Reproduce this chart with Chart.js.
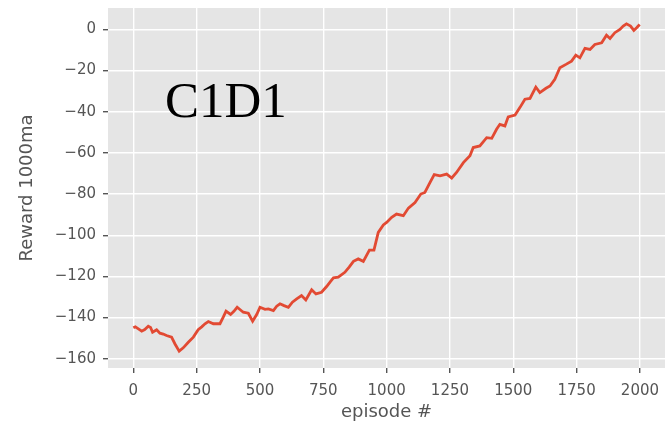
<!DOCTYPE html>
<html>
<head>
<meta charset="utf-8">
<script src="https://cdn.jsdelivr.net/npm/chart.js@4"></script>
<style>
  body { margin: 0; background: #fff; }
  #wrap { width: 665px; height: 424px; }
</style>
</head>
<body>
<div id="wrap"><canvas id="chart" width="665" height="424"></canvas></div>
<script>
// episode numbers and the 1000-episode moving average
const episodes = [0, 8, 20, 33, 45, 59, 68, 76, 92, 105, 118, 131, 151, 164, 181, 197, 217, 237, 256, 270,
  283, 296, 316, 342, 355, 366, 384, 397, 410, 422, 434, 454, 471, 487, 500, 520, 533, 553, 566, 579,
  595, 612, 628, 645, 664, 681, 704, 721, 743, 763, 778, 790, 809, 835, 852, 869, 888, 908, 932, 950,
  967, 987, 1000, 1020, 1039, 1066, 1086, 1112, 1135, 1151, 1171, 1188, 1211, 1237, 1257, 1276, 1303, 1329, 1342, 1368,
  1395, 1415, 1434, 1447, 1467, 1480, 1507, 1526, 1546, 1566, 1589, 1605, 1629, 1645, 1664, 1684, 1708, 1730, 1747, 1763,
  1783, 1803, 1822, 1849, 1868, 1882, 1901, 1921, 1934, 1947, 1963, 1976, 1987, 1999];
const rewards = [-145.0, -144.5, -145.5, -146.6, -145.8, -144.2, -144.8, -147.1, -145.9, -147.6, -148.0, -148.7, -149.5, -152.7, -156.3, -154.7, -152.0, -149.5, -145.9, -144.5,
  -143.0, -141.9, -143.0, -143.0, -139.8, -136.9, -138.5, -137.0, -135.0, -136.2, -137.4, -137.9, -141.8, -138.5, -135.0, -136.0, -135.8, -136.6, -134.5, -133.3,
  -134.2, -135.0, -132.5, -130.9, -129.3, -131.4, -126.5, -128.5, -127.7, -124.9, -122.5, -120.7, -120.4, -118.0, -115.5, -112.7, -111.5, -112.7, -107.2, -107.2,
  -98.6, -95.0, -93.8, -91.3, -89.7, -90.5, -86.8, -84.1, -80.0, -79.2, -74.4, -70.5, -71.1, -70.3, -72.2, -69.5, -64.7, -61.4, -57.4, -56.6,
  -52.6, -52.9, -48.5, -46.1, -46.9, -42.5, -41.6, -38.0, -33.9, -33.5, -28.0, -30.7, -28.6, -27.5, -24.2, -18.6, -17.0, -15.4, -12.5, -13.8,
  -9.2, -9.7, -7.3, -6.5, -2.8, -4.4, -1.6, 0.0, 1.6, 2.7, 1.6, -0.5, 0.8, 2.4];
const xTicks = [0, 250, 500, 750, 1000, 1250, 1500, 1750, 2000];
const yTicks = [-160, -140, -120, -100, -80, -60, -40, -20, 0];

const points = episodes.map((e, i) => ({ x: e, y: rewards[i] }));

// grey ggplot-like panel and the big "C1D1" label
const panelPlugin = {
  id: "panel",
  beforeDraw(chart) {
    const { ctx, chartArea: a } = chart;
    ctx.save();
    ctx.fillStyle = "#E5E5E5";
    ctx.fillRect(a.left, a.top, a.right - a.left, a.bottom - a.top);
    ctx.restore();
  },
  afterDatasetsDraw(chart) {
    const ctx = chart.ctx;
    ctx.save();
    ctx.fillStyle = "#000";
    ctx.font = '51px "Liberation Serif"';
    ctx.textBaseline = "alphabetic";
    ctx.fillText("C1D1", 165, 117);
    ctx.restore();
  }
};

const tickFont = { family: "DejaVu Sans", size: 15 };
const titleFont = { family: "DejaVu Sans", size: 18 };

new Chart(document.getElementById("chart"), {
  type: "scatter",
  data: {
    datasets: [{
      data: points,
      showLine: true,
      borderColor: "#E24A33",
      borderWidth: 2.8,
      pointRadius: 0,
      tension: 0
    }]
  },
  options: {
    responsive: false,
    animation: false,
    layout: { padding: { top: 8, right: 0, left: 0, bottom: 0 } },
    plugins: { legend: { display: false }, tooltip: { enabled: false } },
    scales: {
      x: {
        type: "linear",
        min: -100,
        max: 2099,
        afterBuildTicks: (s) => { s.ticks = xTicks.map(v => ({ value: v })); },
        afterFit: (s) => { s.height = 56; s.paddingLeft = 0; s.paddingRight = 0; },
        grid: { color: "#fff", lineWidth: 1.4, tickColor: "#555", tickLength: 5 },
        border: { display: false },
        ticks: { color: "#555", font: tickFont, padding: 9, maxRotation: 0, callback: (v) => String(v) },
        title: { display: true, text: "episode #", color: "#555", font: titleFont, padding: { top: 0, bottom: 1 } }
      },
      y: {
        min: -164.5,
        max: 10.4,
        afterBuildTicks: (s) => { s.ticks = yTicks.map(v => ({ value: v })); },
        afterFit: (s) => { s.width = 108; s.paddingTop = 0; s.paddingBottom = 0; },
        grid: { color: "#fff", lineWidth: 1.4, tickColor: "#555", tickLength: 5 },
        border: { display: false },
        ticks: {
          color: "#555", font: tickFont, padding: 7,
          callback: (v) => (v < 0 ? "\u2212" + Math.abs(v) : String(v))
        },
        title: { display: true, text: "Reward 1000ma", color: "#555", font: titleFont, padding: { top: 17, bottom: 0 } }
      }
    }
  },
  plugins: [panelPlugin]
});
</script>
</body>
</html>
